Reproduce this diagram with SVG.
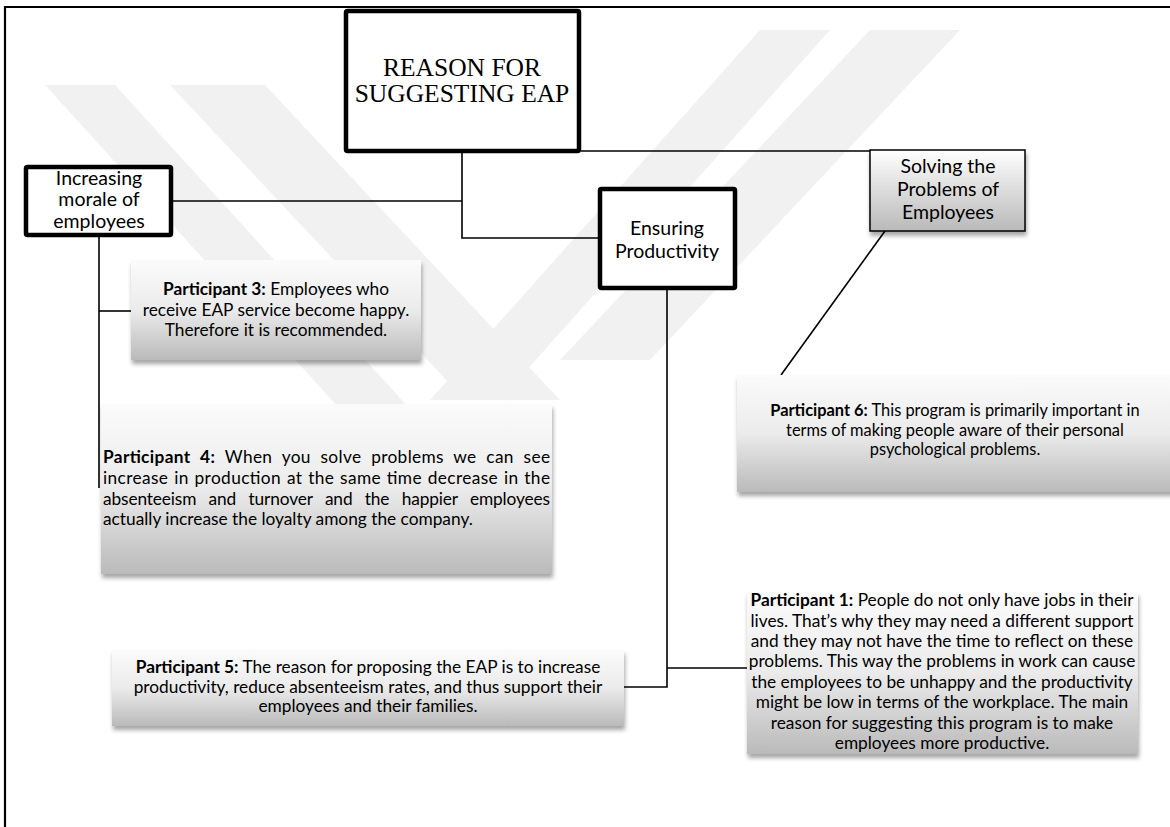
<svg xmlns="http://www.w3.org/2000/svg" width="1170" height="827" viewBox="0 0 1170 827">
<defs>
<linearGradient id="gP" x1="0" y1="0" x2="0" y2="1">
<stop offset="0" stop-color="#fbfbfb"/>
<stop offset="0.5" stop-color="#ebebeb"/>
<stop offset="1" stop-color="#bababa"/>
</linearGradient>
<linearGradient id="gS" x1="0" y1="0" x2="0" y2="1">
<stop offset="0" stop-color="#ffffff"/>
<stop offset="1" stop-color="#b9b9b9"/>
</linearGradient>
<filter id="sh" x="-5%" y="-10%" width="115%" height="130%">
<feDropShadow dx="1" dy="4" stdDeviation="2.2" flood-color="#000" flood-opacity="0.35"/>
</filter>
</defs>
<style>
.wm{fill:#f1f1f1;}
.thick{fill:#fff;stroke:#000;stroke-width:4.5;}
.conn{fill:none;stroke:#000;stroke-width:1.6;}
.frame{fill:none;stroke:#000;stroke-width:2.2;}
.serif{font-family:"Liberation Serif","Times New Roman",serif;font-size:25.5px;fill:#000;}
.lab{font-family:Lato,"Noto Sans","Liberation Sans",sans-serif;font-size:19.5px;fill:#000;}
.body{font-family:Lato,"Noto Sans","Liberation Sans",sans-serif;font-size:17.3px;fill:#000;}
.p6{font-family:Lato,"Noto Sans","Liberation Sans",sans-serif;font-size:16.4px;fill:#000;}
.b{font-weight:bold;}
.pbox{fill:url(#gP);filter:url(#sh);}
</style>
<rect width="1170" height="827" fill="#fff"/>
<g id="watermark">
<polygon class="wm" points="45,85 115,85 420,420 350,420"/>
<polygon class="wm" points="170,85 265,85 560,400 465,400"/>
<polygon class="wm" points="830,30 760,30 430,400 500,400"/>
<polygon class="wm" points="960,30 870,30 560,360 650,360"/>
</g>
<path class="frame" d="M5,827 V7 H1170"/>
<g id="connectors">
<path class="conn" d="M462,153 V238 H600"/>
<path class="conn" d="M173,201 H462"/>
<path class="conn" d="M581,151 H870"/>
<path class="conn" d="M99,237 V488"/>
<path class="conn" d="M99,311 H131"/>
<path class="conn" d="M667,290 V687 H624"/>
<path class="conn" d="M667,668 H747"/>
<path class="conn" d="M885,231 L781,375"/>
</g>
<g id="node-main">
<rect class="thick" x="346" y="11" width="233" height="140" rx="1.5"/>
<text class="serif" text-anchor="middle"><tspan x="462" y="75.5">REASON FOR</tspan><tspan x="462" y="102">SUGGESTING EAP</tspan></text>
</g>
<g id="node-increasing">
<rect class="thick" x="26" y="167" width="145" height="68" rx="1.5"/>
<text class="lab" text-anchor="middle"><tspan x="99" y="185">Increasing</tspan><tspan x="99" y="206">morale of</tspan><tspan x="99" y="228">employees</tspan></text>
</g>
<g id="node-ensuring">
<rect class="thick" x="600" y="189" width="135" height="99" rx="1.5"/>
<text class="lab" text-anchor="middle"><tspan x="667" y="235">Ensuring</tspan><tspan x="667" y="258">Productivity</tspan></text>
</g>
<g id="node-solving">
<rect x="870" y="150" width="155" height="81" fill="url(#gS)" stroke="#000" stroke-width="1.5" filter="url(#sh)"/>
<text class="lab" text-anchor="middle"><tspan x="948" y="173">Solving the</tspan><tspan x="948" y="196">Problems of</tspan><tspan x="948" y="219">Employees</tspan></text>
</g>
<g id="node-p3">
<rect class="pbox" x="131" y="260" width="290" height="100"/>
<text class="body" text-anchor="middle"><tspan x="276" y="295"><tspan class="b">Participant 3:</tspan> Employees who</tspan><tspan x="276" y="316">receive EAP service become happy.</tspan><tspan x="276" y="336">Therefore it is recommended.</tspan></text>
</g>
<g id="node-p4">
<rect class="pbox" x="101" y="404" width="451" height="170"/>
<text class="body" word-spacing="5" x="103" y="463" textLength="447" lengthAdjust="spacing"><tspan class="b">Participant 4:</tspan> When you solve problems we can see</text>
<text class="body" word-spacing="1" x="103" y="484" textLength="447" lengthAdjust="spacing">increase in production at the same time decrease in the</text>
<text class="body" word-spacing="8" x="103" y="505" textLength="447" lengthAdjust="spacing">absenteeism and turnover and the happier employees</text>
<text class="body" x="103" y="525">actually increase the loyalty among the company.</text>
</g>
<g id="node-p6">
<rect class="pbox" x="737" y="375" width="440" height="117"/>
<text class="p6" text-anchor="middle"><tspan x="955" y="416"><tspan class="b">Participant 6:</tspan> This program is primarily important in</tspan><tspan x="955" y="435.5">terms of making people aware of their personal</tspan><tspan x="955" y="455">psychological problems.</tspan></text>
</g>
<g id="node-p5">
<rect class="pbox" x="112" y="650" width="512" height="76"/>
<text class="body" text-anchor="middle"><tspan x="368" y="673"><tspan class="b">Participant 5:</tspan> The reason for proposing the EAP is to increase</tspan><tspan x="368" y="693">productivity, reduce absenteeism rates, and thus support their</tspan><tspan x="368" y="712">employees and their families.</tspan></text>
</g>
<g id="node-p1">
<rect class="pbox" x="747" y="592" width="391" height="162"/>
<text class="body" text-anchor="middle"><tspan x="942" y="606"><tspan class="b">Participant 1:</tspan> People do not only have jobs in their</tspan><tspan x="942" y="627">lives. That’s why they may need a different support</tspan><tspan x="942" y="647">and they may not have the time to reflect on these</tspan><tspan x="942" y="667">problems. This way the problems in work can cause</tspan><tspan x="942" y="688">the employees to be unhappy and the productivity</tspan><tspan x="942" y="708">might be low in terms of the workplace. The main</tspan><tspan x="942" y="729">reason for suggesting this program is to make</tspan><tspan x="942" y="749">employees more productive.</tspan></text>
</g>
</svg>
